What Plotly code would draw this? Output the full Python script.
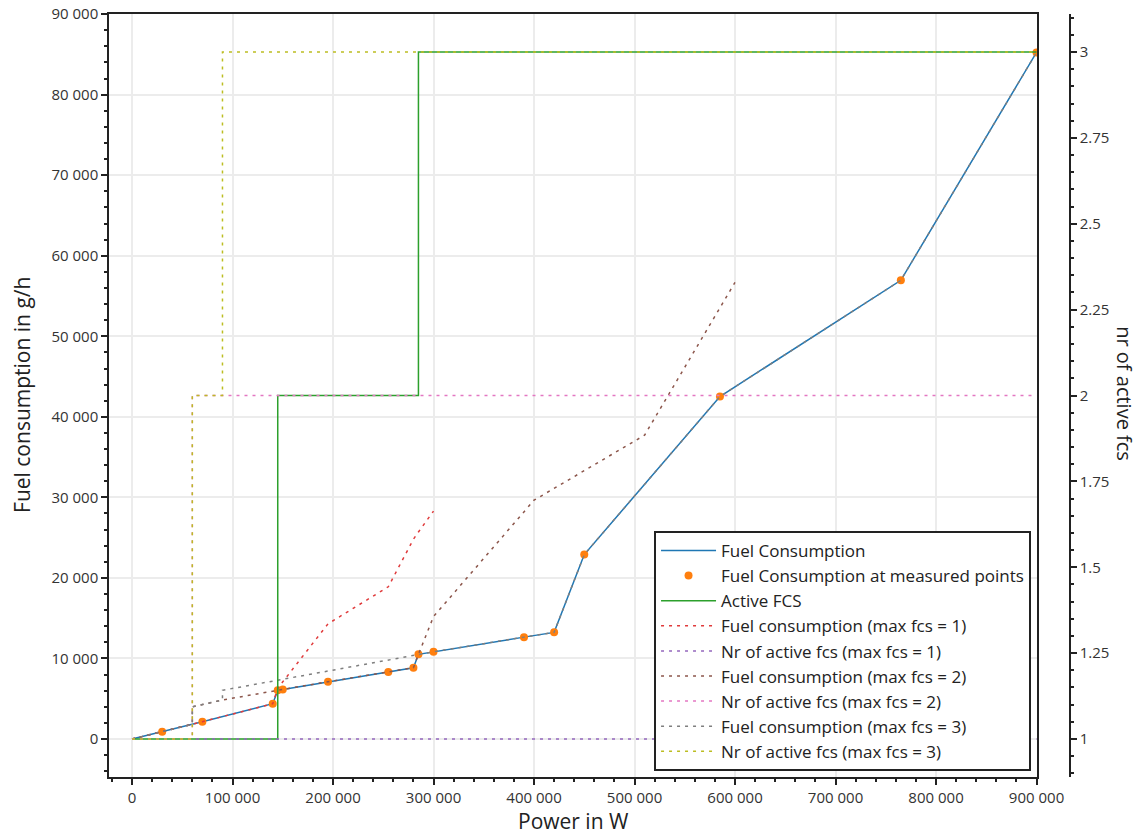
import plotly.graph_objects as go

# measured operating points (power in W, fuel in g/h, number of active fuel cell systems)
measured_power = [30000, 70000, 140000, 145000, 150000, 195000, 255000, 280000, 285000,
                  300000, 390000, 420000, 450000, 585000, 765000, 900000]
measured_fuel = [900, 2150, 4380, 6040, 6160, 7110, 8310, 8850, 10510,
                 10830, 12650, 13240, 22900, 42520, 56950, 85240]
measured_fcs = [1, 1, 1, 2, 2, 2, 2, 2, 3, 3, 3, 3, 3, 3, 3, 3]

line_power = [0] + measured_power
line_fuel = [0] + measured_fuel
line_fcs = [1] + measured_fcs

# fuel consumption when the number of systems is limited
p_max1 = [0, 30000, 70000, 140000, 145000, 150000, 195000, 255000, 280000, 285000, 300000]
f_max1 = [0, 900, 2150, 4380, 6300, 7100, 14300, 18900, 24800, 25700, 28300]

p_max2 = [0, 30000, 60000, 60000, 90000, 145000, 150000, 195000, 255000, 280000, 285000,
          300000, 400000, 510000, 600000]
f_max2 = [0, 900, 1840, 4000, 4850, 6040, 6160, 7110, 8310, 8850, 10510,
          15200, 29650, 37720, 56700]

p_max3 = [0, 30000, 60000, 60000, 90000, 90000, 285000, 300000, 390000, 420000, 450000,
          585000, 765000, 900000]
f_max3 = [0, 900, 1840, 4000, 4850, 6050, 10510, 10830, 12650, 13240, 22900,
          42520, 56950, 85240]

# number of active systems (step values)
n_p_max1 = [0, 900000]
n_max1 = [1, 1]
n_p_max2 = [0, 60000, 900000]
n_max2 = [1, 2, 2]
n_p_max3 = [0, 60000, 90000, 900000]
n_max3 = [1, 2, 3, 3]

DOT = "3px,5px"
FONT = "Open Sans, sans-serif"

fig = go.Figure()
fig.add_trace(go.Scatter(x=line_power, y=line_fuel, mode="lines", name="Fuel Consumption",
                         line=dict(color="#1f77b4", width=1.5)))
fig.add_trace(go.Scatter(x=measured_power, y=measured_fuel, mode="markers",
                         name="Fuel Consumption at measured points",
                         marker=dict(color="#ff7f0e", size=8)))
fig.add_trace(go.Scatter(x=line_power, y=line_fcs, mode="lines", line_shape="hv", yaxis="y2",
                         name="Active FCS", line=dict(color="#2ca02c", width=1.5)))
fig.add_trace(go.Scatter(x=p_max1, y=f_max1, mode="lines", name="Fuel consumption (max fcs = 1)",
                         line=dict(color="#e03a3b", width=1.5, dash=DOT)))
fig.add_trace(go.Scatter(x=n_p_max1, y=n_max1, mode="lines", line_shape="hv", yaxis="y2",
                         name="Nr of active fcs (max fcs = 1)",
                         line=dict(color="#9467bd", width=1.5, dash=DOT)))
fig.add_trace(go.Scatter(x=p_max2, y=f_max2, mode="lines", name="Fuel consumption (max fcs = 2)",
                         line=dict(color="#8c564b", width=1.5, dash=DOT)))
fig.add_trace(go.Scatter(x=n_p_max2, y=n_max2, mode="lines", line_shape="hv", yaxis="y2",
                         name="Nr of active fcs (max fcs = 2)",
                         line=dict(color="#e377c2", width=1.5, dash=DOT)))
fig.add_trace(go.Scatter(x=p_max3, y=f_max3, mode="lines", name="Fuel consumption (max fcs = 3)",
                         line=dict(color="#7f7f7f", width=1.5, dash=DOT)))
fig.add_trace(go.Scatter(x=n_p_max3, y=n_max3, mode="lines", line_shape="hv", yaxis="y2",
                         name="Nr of active fcs (max fcs = 3)",
                         line=dict(color="#bcbd22", width=1.5, dash=DOT)))

axis_common = dict(
    showline=True, linecolor="#222", linewidth=1.5,
    ticks="outside", ticklen=6, tickwidth=1.5, tickcolor="#222",
    tickfont=dict(size=15, color="#333"),
    zeroline=False, automargin=False, ticklabeloverflow="allow",
)

# the page body adds an 8px offset, so the figure is sized 8px smaller than the window
fig.update_layout(
    width=1134, height=826,
    margin=dict(l=101, r=52, t=6, b=57),
    paper_bgcolor="white", plot_bgcolor="white",
    font=dict(family=FONT, color="#222"),
    separators=". ",
    showlegend=True,
    legend=dict(
        x=0.9399, y=0.0079, xanchor="right", yanchor="bottom",
        bgcolor="white", bordercolor="#222", borderwidth=2,
        font=dict(size=17, color="#222"), itemwidth=55,
    ),
    xaxis=dict(
        domain=[0, 0.946], range=[-22900, 900500], dtick=100000, tick0=0, tickformat=",d",
        mirror=True, showgrid=True, gridcolor="#ececec", gridwidth=1.5,
        minor=dict(dtick=20000, ticks="outside", ticklen=3, tickcolor="#222", showgrid=False),
        **axis_common,
    ),
    yaxis=dict(
        range=[-4715, 90010], dtick=10000, tick0=0, tickformat=",d",
        mirror=True, showgrid=True, gridcolor="#ececec", gridwidth=1.5,
        minor=dict(dtick=2000, ticks="outside", ticklen=3, tickcolor="#222", showgrid=False),
        **axis_common,
    ),
    yaxis2=dict(
        overlaying="y", side="right", anchor="free", position=0.9796,
        range=[0.8894, 3.1106], dtick=0.25, tick0=1, showgrid=False,
        minor=dict(dtick=0.05, ticks="outside", ticklen=3, tickcolor="#222", showgrid=False),
        **axis_common,
    ),
    annotations=[
        dict(text="Power in W", xref="paper", yref="paper", x=0.473, y=-0.0575,
             xanchor="center", yanchor="middle",
             showarrow=False, font=dict(size=21, color="#222")),
        dict(text="Fuel consumption in g/h", xref="paper", yref="paper", x=-0.0887, y=0.5007,
             xanchor="center", yanchor="middle",
             textangle=-90, showarrow=False, font=dict(size=21, color="#222")),
        dict(text="nr of active fcs", xref="paper", yref="paper", x=1.0357, y=0.503,
             xanchor="center", yanchor="middle",
             textangle=90, showarrow=False, font=dict(size=20, color="#222")),
    ],
)

fig.write_html("out.html")
